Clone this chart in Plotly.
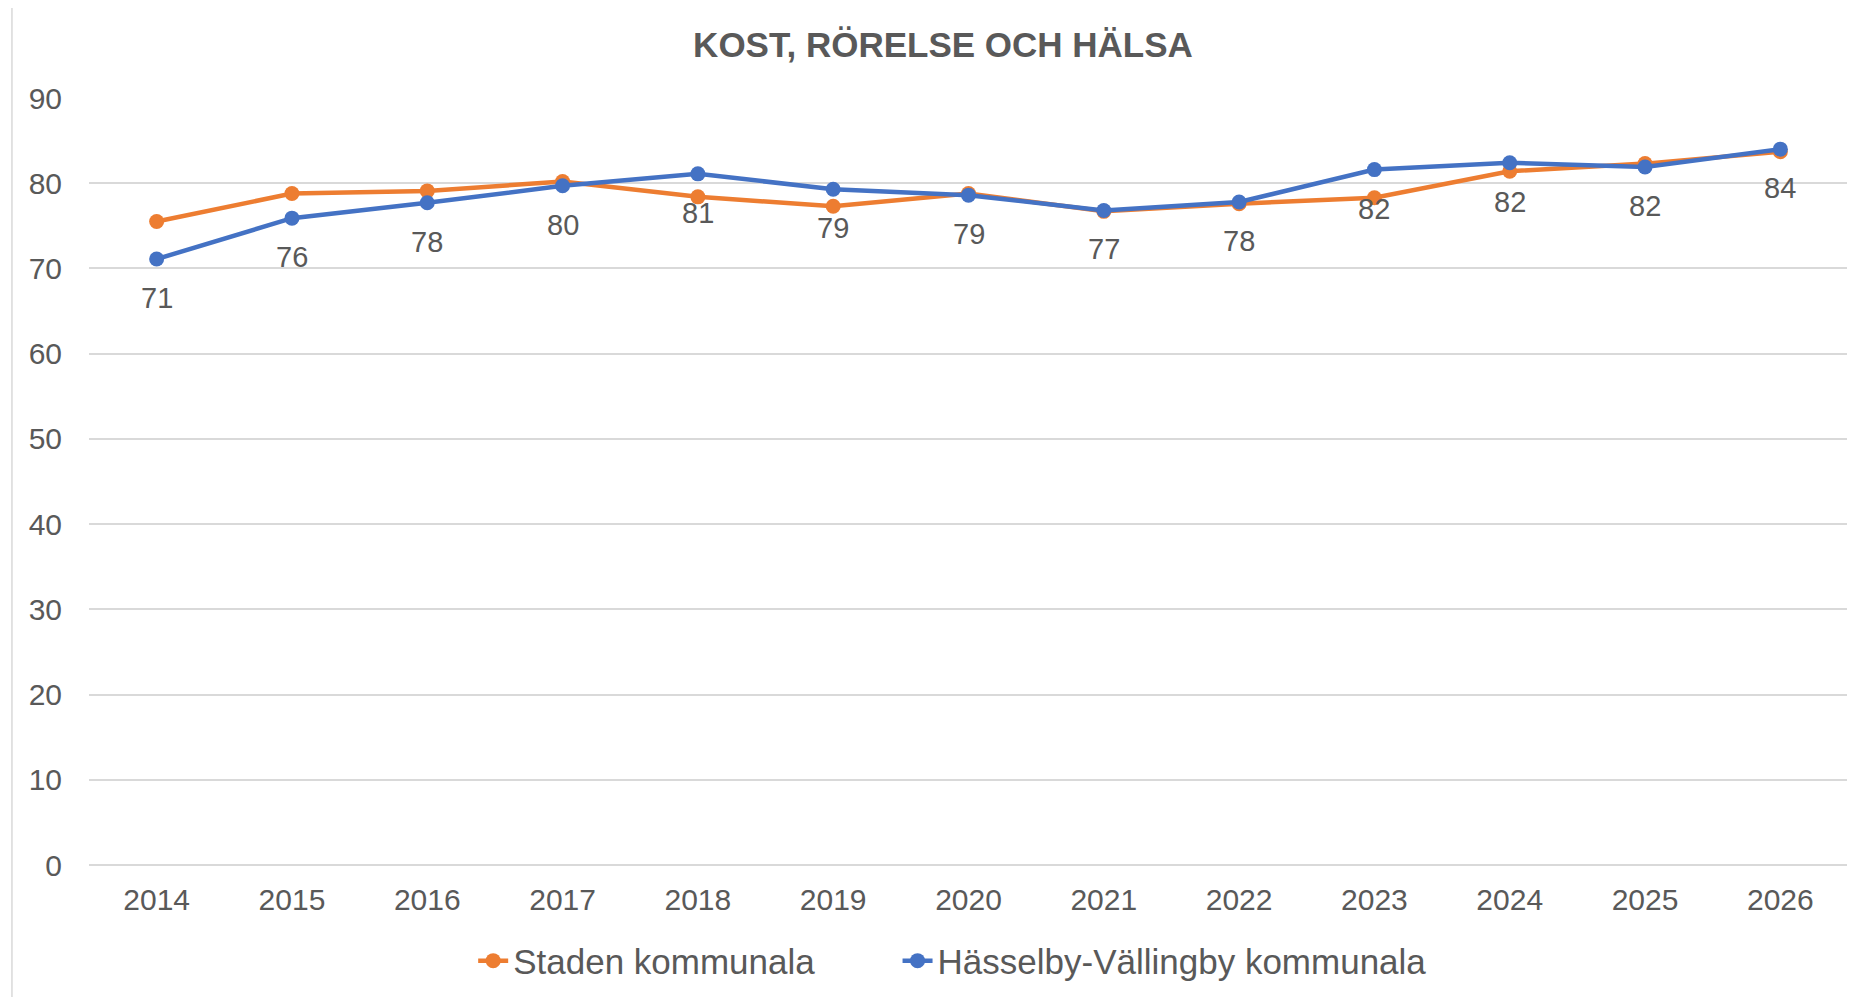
import plotly.graph_objects as go

# data
years = ["2014", "2015", "2016", "2017", "2018", "2019", "2020",
         "2021", "2022", "2023", "2024", "2025", "2026"]
staden = [75.5, 78.8, 79.1, 80.2, 78.4, 77.3, 78.8,
          76.7, 77.6, 78.3, 81.4, 82.3, 83.7]
hasselby = [71.1, 75.9, 77.7, 79.7, 81.1, 79.3, 78.6,
            76.8, 77.8, 81.6, 82.4, 81.9, 84.0]
labels_hv = ["71", "76", "78", "80", "81", "79", "79",
             "77", "78", "82", "82", "82", "84"]
y_ticks = [0, 10, 20, 30, 40, 50, 60, 70, 80, 90]

ORANGE = "#ED7D31"
BLUE = "#4472C4"
GREY = "#595959"
GRID = "#D9D9D9"
FONT = "Liberation Sans, Arial, sans-serif"

# page body has an 8px margin, so the figure is drawn 8px smaller
W, H = 1847, 989

fig = go.Figure()

fig.add_trace(go.Scatter(
    x=years, y=staden, name="Staden kommunala" + "\u00a0" * 8,
    mode="lines+markers",
    line=dict(color=ORANGE, width=4.5),
    marker=dict(color=ORANGE, size=15),
))
fig.add_trace(go.Scatter(
    x=years, y=hasselby, name="Hässelby-Vällingby kommunala",
    mode="lines+markers",
    line=dict(color=BLUE, width=4.5),
    marker=dict(color=BLUE, size=15),
))

# data labels below the blue series (category index for x)
for i, (v, t) in enumerate(zip(hasselby, labels_hv)):
    fig.add_annotation(x=i, y=v, xref="x", yref="y", text=t,
                       showarrow=False, yshift=-39, yanchor="middle",
                       font=dict(size=29, color=GREY, family=FONT))

# chart area border (left and top only are visible)
fig.add_shape(type="line", xref="paper", yref="paper",
              x0=-0.0438, x1=-0.0438, y0=-0.2, y1=1.1213,
              line=dict(color=GRID, width=1.5))
fig.add_shape(type="line", xref="paper", yref="paper",
              x0=-0.0438, x1=1.01, y0=1.1213, y1=1.1213,
              line=dict(color=GRID, width=1.5))

fig.update_layout(
    width=W, height=H,
    margin=dict(l=81, r=7, t=90, b=132),
    paper_bgcolor="white", plot_bgcolor="white",
    font=dict(family=FONT, color=GREY),
    title=dict(text="<b>KOST, RÖRELSE OCH HÄLSA</b>",
               x=(943 - 8) / W, xanchor="center",
               y=1 - (45 - 8) / H, yanchor="middle",
               font=dict(size=35, color=GREY, family=FONT)),
    showlegend=True,
    legend=dict(orientation="h", x=0.491, xanchor="center",
                y=-0.125, yanchor="middle",
                font=dict(size=35, color=GREY, family=FONT),
                bgcolor="rgba(0,0,0,0)"),
    xaxis=dict(type="category", range=[-0.5, 12.5],
               showgrid=False, showline=False, zeroline=False,
               ticks="", ticklabelstandoff=14,
               tickfont=dict(size=30, color=GREY, family=FONT)),
    yaxis=dict(range=[0, 90], tickvals=y_ticks,
               showgrid=True, gridcolor=GRID, gridwidth=1.5,
               zeroline=True, zerolinecolor=GRID, zerolinewidth=1.5,
               showline=False, ticks="", ticklabelstandoff=26,
               tickfont=dict(size=30, color=GREY, family=FONT)),
)

fig.write_html("out.html")
